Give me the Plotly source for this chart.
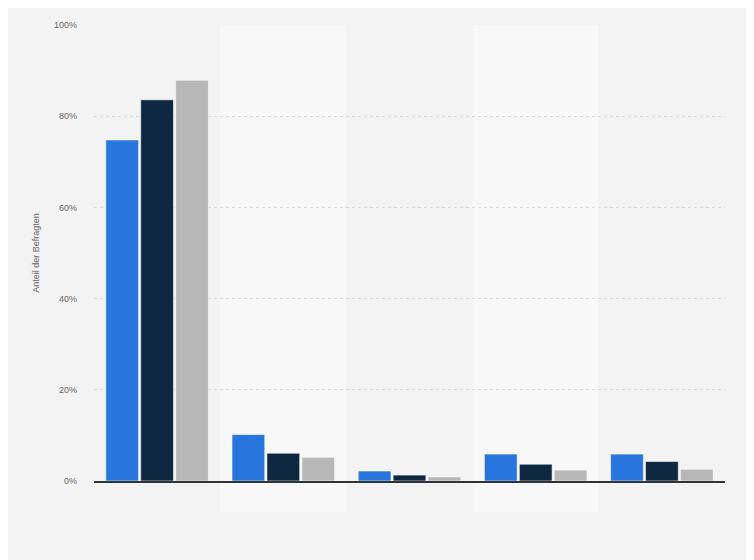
import plotly.graph_objects as go

# Data (share of respondents, %)
categories = ['Kategorie 1', 'Kategorie 2', 'Kategorie 3', 'Kategorie 4', 'Kategorie 5']
series_names = ['Serie 1', 'Serie 2', 'Serie 3']
values_1 = [74.8, 10.2, 2.2, 5.9, 5.9]
values_2 = [83.6, 6.1, 1.3, 3.7, 4.3]
values_3 = [87.9, 5.2, 0.9, 2.4, 2.6]
y_ticks = [0, 20, 40, 60, 80, 100]
y_tick_labels = ['0%', '20%', '40%', '60%', '80%', '100%']

colors = ['#2876dd', '#0f2841', '#b8b8b8']

fig = go.Figure()
for name, vals, col in zip(series_names, [values_1, values_2, values_3], colors):
    fig.add_trace(go.Bar(
        x=categories,
        y=vals,
        name=name,
        marker=dict(color=col, line=dict(color='rgba(255,255,255,0.6)', width=1)),
    ))

# Alternating lighter bands behind categories 2 and 4
shapes = []
for i in [1, 3]:
    shapes.append(dict(
        type='rect', xref='x', yref='paper',
        x0=i - 0.5, x1=i + 0.5, y0=-0.068, y1=1.0,
        fillcolor='#f8f8f8', line=dict(width=0), layer='below',
    ))

fig.update_layout(
    width=754, height=560,
    paper_bgcolor='#f3f3f3',
    plot_bgcolor='rgba(0,0,0,0)',
    margin=dict(l=86, r=37, t=12, b=87),
    barmode='group',
    bargap=0.17,
    bargroupgap=0.06,
    showlegend=False,
    shapes=shapes,
    font=dict(family='Arial, Liberation Sans, sans-serif', size=10, color='#666666'),
)

fig.update_xaxes(
    showticklabels=False,
    showgrid=False,
    showline=True, linecolor='#333333', linewidth=1.5,
    ticks='',
)

fig.update_yaxes(
    range=[0, 100],
    tickvals=y_ticks,
    ticktext=y_tick_labels,
    tickfont=dict(size=9, color='#666666'),
    showgrid=True, gridcolor='#dadada', griddash='dot', gridwidth=1,
    zeroline=False,
    ticks='', ticklabelstandoff=16,
    title=dict(text='Anteil der Befragten', font=dict(size=9, color='#666666'), standoff=12),
)

fig.write_html("out.html")
